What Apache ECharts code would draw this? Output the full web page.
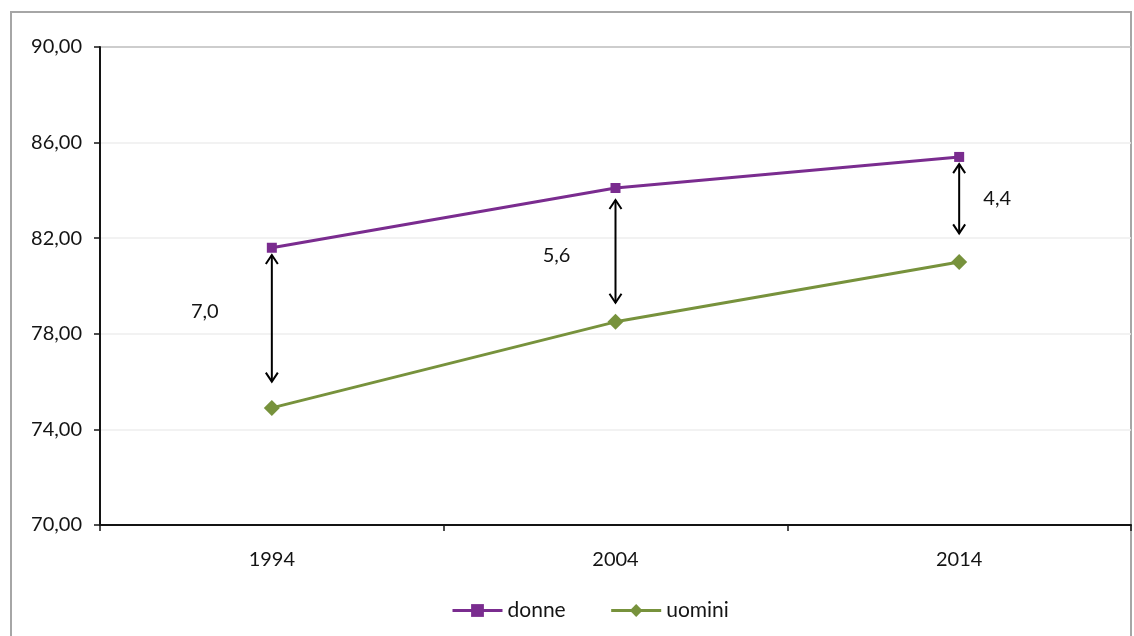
<!DOCTYPE html>
<html>
<head>
<meta charset="utf-8">
<script src="https://cdn.jsdelivr.net/npm/echarts@6/dist/echarts.min.js"></script>
<style>
  html, body { margin: 0; padding: 0; background: #fff; }
  #chart { width: 1134px; height: 636px; }
</style>
</head>
<body>
<div id="chart"></div>
<script>
// Speranza di vita alla nascita per sesso
const years = ['1994', '2004', '2014'];
const donne = [81.6, 84.1, 85.4];
const uomini = [74.9, 78.5, 81.0];

// Double-headed arrows marking the gap between the two series
const gapTop = [81.3, 83.6, 85.1];
const gapBottom = [76.0, 79.3, 82.2];
const gapLabels = ['7,0', '5,6', '4,4'];

const yTicks = { min: 70, max: 90, step: 4 };

const FONT = 'Lato, "Open Sans", "Liberation Sans", sans-serif';
const INK = '#141414';
const PURPLE = '#7a2c8f';
const OLIVE = '#77923c';

// label placement next to each arrow: [dx, dy] in pixels
const labelShift = [[-67, -7], [-59, 4], [38, 0]];

const gapData = years.map((_, i) => [i, gapTop[i], gapBottom[i], gapLabels[i]]);

const chart = echarts.init(document.getElementById('chart'));

chart.setOption({
  backgroundColor: '#fff',
  animation: false,
  graphic: [{
    type: 'rect',
    shape: { x: 11, y: 12, width: 1120, height: 640 },
    style: { fill: 'none', stroke: '#a6a6a6', lineWidth: 2 },
    silent: true, z: -1
  }],
  grid: { left: 100, right: 3, top: 47, bottom: 111 },
  legend: {
    left: 446, top: 595,
    itemWidth: 50, itemHeight: 16, itemGap: 44,
    lineStyle: { width: 3 },
    textStyle: { fontFamily: FONT, fontSize: 21, color: INK },
    data: ['donne', 'uomini']
  },
  xAxis: {
    type: 'category',
    data: years,
    boundaryGap: true,
    axisLine: { lineStyle: { color: INK, width: 2 } },
    axisTick: { show: true, length: 6, lineStyle: { color: INK, width: 1.5 } },
    axisLabel: { fontFamily: FONT, fontSize: 20, color: INK, margin: 25 }
  },
  yAxis: {
    type: 'value',
    min: yTicks.min, max: yTicks.max, interval: yTicks.step,
    axisLine: { show: true, lineStyle: { color: INK, width: 2 } },
    axisTick: { show: true, length: 6, lineStyle: { color: INK, width: 1.5 } },
    axisLabel: {
      fontFamily: FONT, fontSize: 20, color: INK, margin: 18,
      formatter: v => v.toFixed(2).replace('.', ',')
    },
    splitLine: { show: true, lineStyle: { color: ['#eee', '#eee', '#eee', '#eee', '#eee', '#bdbdbd'], width: 1.5 } }
  },
  series: [
    {
      name: 'donne', type: 'line', data: donne,
      symbol: 'rect', symbolSize: 10,
      lineStyle: { color: PURPLE, width: 3 },
      itemStyle: { color: PURPLE }
    },
    {
      name: 'uomini', type: 'line', data: uomini,
      symbol: 'diamond', symbolSize: 16,
      lineStyle: { color: OLIVE, width: 3 },
      itemStyle: { color: OLIVE }
    },
    {
      name: 'gap', type: 'custom', data: gapData, silent: true, z: 5,
      renderItem(params, api) {
        const i = api.value(0);
        const a = api.coord([i, api.value(1)]);
        const b = api.coord([i, api.value(2)]);
        const hw = 6, hh = 9;
        const stroke = { stroke: '#000', lineWidth: 2, fill: 'none' };
        const sh = labelShift[params.dataIndex];
        return {
          type: 'group',
          children: [
            { type: 'line', shape: { x1: a[0], y1: a[1], x2: b[0], y2: b[1] }, style: stroke },
            { type: 'polyline', shape: { points: [[a[0] - hw, a[1] + hh], [a[0], a[1]], [a[0] + hw, a[1] + hh]] }, style: stroke },
            { type: 'polyline', shape: { points: [[b[0] - hw, b[1] - hh], [b[0], b[1]], [b[0] + hw, b[1] - hh]] }, style: stroke },
            {
              type: 'text',
              style: {
                x: a[0] + sh[0], y: (a[1] + b[1]) / 2 + sh[1],
                text: gapLabels[params.dataIndex],
                fill: INK, font: '20px ' + FONT,
                align: 'center', verticalAlign: 'middle'
              }
            }
          ]
        };
      }
    }
  ]
});
</script>
</body>
</html>
